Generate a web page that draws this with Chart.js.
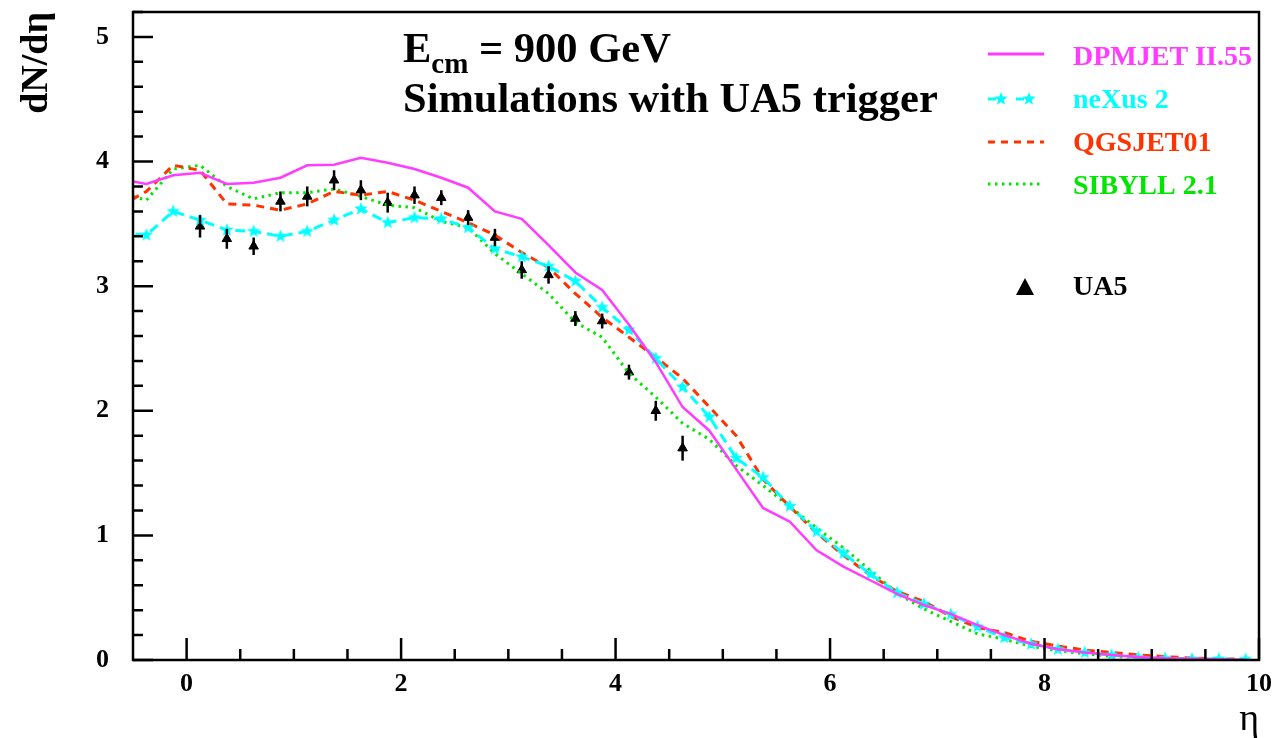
<!DOCTYPE html>
<html>
<head>
<meta charset="utf-8">
<script src="https://cdn.jsdelivr.net/npm/chart.js@4.4.1/dist/chart.umd.min.js"></script>
<style>
  html, body { margin: 0; padding: 0; background: #fff; }
</style>
</head>
<body>
<canvas id="chart-1" width="1273" height="738"></canvas>
<script>
/************************ data ***************************************************/
// bin centres of the simulated distributions (first one lies just left of the axis)
const etaSim = [-0.625, -0.375, -0.125, 0.125, 0.375, 0.625, 0.875, 1.125, 1.375, 1.625,
  1.875, 2.125, 2.375, 2.625, 2.875, 3.125, 3.375, 3.625, 3.875, 4.125,
  4.375, 4.625, 4.875, 5.125, 5.375, 5.625, 5.875, 6.125, 6.375, 6.625,
  6.875, 7.125, 7.375, 7.625, 7.875, 8.125, 8.375, 8.625, 8.875, 9.125,
  9.375, 9.625, 9.875];

const dpmjet = [3.86, 3.82, 3.89, 3.91, 3.82, 3.83, 3.87, 3.97, 3.975, 4.03,
  3.99, 3.94, 3.87, 3.79, 3.60, 3.54, 3.33, 3.11, 2.97, 2.69,
  2.39, 2.03, 1.84, 1.53, 1.22, 1.11, 0.88, 0.75, 0.64, 0.53,
  0.44, 0.37, 0.28, 0.20, 0.13, 0.086, 0.06, 0.04, 0.025, 0.015,
  0.01, 0.006, 0.003];

const nexus = [3.43, 3.41, 3.60, 3.53, 3.45, 3.44, 3.40, 3.44, 3.53, 3.62,
  3.51, 3.55, 3.54, 3.47, 3.30, 3.235, 3.16, 3.04, 2.83, 2.65,
  2.42, 2.19, 1.95, 1.62, 1.465, 1.235, 1.03, 0.856, 0.69, 0.54,
  0.45, 0.366, 0.267, 0.18, 0.128, 0.086, 0.06, 0.04, 0.02, 0.013,
  0.008, 0.008, 0.005];

const qgsjet = [3.64, 3.76, 3.97, 3.93, 3.66, 3.65, 3.61, 3.66, 3.76, 3.73,
  3.76, 3.69, 3.60, 3.51, 3.41, 3.27, 3.15, 2.94, 2.75, 2.59,
  2.43, 2.26, 2.03, 1.80, 1.45, 1.23, 1.02, 0.84, 0.68, 0.55,
  0.47, 0.35, 0.26, 0.22, 0.15, 0.112, 0.08, 0.06, 0.04, 0.027,
  0.016, 0.01, 0.005];

const sibyll = [3.75, 3.69, 3.94, 3.97, 3.80, 3.70, 3.75, 3.75, 3.78, 3.72,
  3.65, 3.63, 3.52, 3.47, 3.26, 3.10, 2.94, 2.71, 2.59, 2.30,
  2.11, 1.90, 1.77, 1.56, 1.40, 1.23, 1.06, 0.90, 0.72, 0.535,
  0.41, 0.31, 0.21, 0.166, 0.11, 0.075, 0.05, 0.03, 0.02, 0.012,
  0.007, 0.004, 0.002];

// UA5 measurement
const etaUA5 = [0.125, 0.375, 0.625, 0.875, 1.125, 1.375, 1.625, 1.875, 2.125, 2.375,
  2.625, 2.875, 3.125, 3.375, 3.625, 3.875, 4.125, 4.375, 4.625];
const ua5 = [3.48, 3.38, 3.32, 3.68, 3.72, 3.85, 3.77, 3.67, 3.73, 3.71,
  3.55, 3.39, 3.13, 3.09, 2.74, 2.72, 2.31, 2.00, 1.70];
const ua5Err = [0.09, 0.08, 0.07, 0.08, 0.08, 0.08, 0.08, 0.08, 0.07, 0.06,
  0.06, 0.07, 0.07, 0.07, 0.06, 0.06, 0.06, 0.08, 0.10];

const xTicks = [0, 2, 4, 6, 8, 10];
const yTicks = [0, 1, 2, 3, 4, 5];

/************************ styles *********************************/
const MAGENTA = "#ff3cff";
const CYAN = "#00ffff";
const RED = "#ff3300";
const GREEN = "#00e600";
const SERIF = '"Liberation Serif", "Times New Roman", serif';

function makeStar(color, r) {
  const c = document.createElement("canvas");
  c.width = c.height = 2 * r + 2;
  const g = c.getContext("2d");
  g.fillStyle = color;
  g.beginPath();
  for (let i = 0; i < 10; i++) {
    const rad = i % 2 ? r * 0.42 : r;
    const a = -Math.PI / 2 + i * Math.PI / 5;
    g.lineTo(r + 1 + rad * Math.cos(a), r + 1 + rad * Math.sin(a));
  }
  g.closePath();
  g.fill();
  return c;
}
const starImg = makeStar(CYAN, 7);

function pairs(xs, ys) {
  return xs.map((x, i) => ({ x: x, y: ys[i] }));
}

/************************ plugin: frame, ticks, error bars, texts *****************/
const decorations = {
  id: "decorations",
  afterDatasetsDraw(chart) {
    const ctx = chart.ctx;
    const xs = chart.scales.x, ys = chart.scales.y;
    // UA5 error bars
    ctx.save();
    ctx.strokeStyle = "#000";
    ctx.lineWidth = 2.5;
    etaUA5.forEach((e, i) => {
      const px = xs.getPixelForValue(e);
      ctx.beginPath();
      ctx.moveTo(px, ys.getPixelForValue(ua5[i] - ua5Err[i]));
      ctx.lineTo(px, ys.getPixelForValue(ua5[i] + ua5Err[i]));
      ctx.stroke();
    });
    ctx.restore();
  },
  afterDraw(chart) {
    const ctx = chart.ctx;
    const a = chart.chartArea;
    const xs = chart.scales.x, ys = chart.scales.y;
    ctx.save();
    ctx.strokeStyle = "#000";
    ctx.lineWidth = 2.5;
    ctx.strokeRect(a.left, a.top, a.right - a.left, a.bottom - a.top);

    // inward tick marks
    ctx.beginPath();
    for (let v = 0; v <= 10.001; v += 0.5) {
      const px = xs.getPixelForValue(v);
      const len = Math.abs(v % 2) < 1e-6 ? 22 : 11;
      ctx.moveTo(px, a.bottom);
      ctx.lineTo(px, a.bottom - len);
    }
    for (let k = 0; k <= 26; k++) {
      const v = k * 0.2;
      const py = ys.getPixelForValue(v);
      const len = k % 5 === 0 ? 20 : 10;
      ctx.moveTo(a.left, py);
      ctx.lineTo(a.left + len, py);
    }
    ctx.stroke();

    // header text
    ctx.fillStyle = "#000";
    ctx.textBaseline = "alphabetic";
    ctx.textAlign = "left";
    let x = 403;
    ctx.font = "bold 42.5px " + SERIF;
    ctx.fillText("E", x, 62);
    x += ctx.measureText("E").width;
    ctx.font = "bold 29px " + SERIF;
    ctx.fillText("cm", x, 73);
    x += ctx.measureText("cm").width;
    ctx.font = "bold 42.5px " + SERIF;
    ctx.fillText(" = 900 GeV", x, 62);
    ctx.fillText("Simulations with UA5 trigger", 403, 112);

    // legend
    const lx0 = 988, lx1 = 1044, tx = 1073;
    ctx.font = "bold 28px " + SERIF;
    ctx.lineWidth = 3;

    ctx.strokeStyle = MAGENTA;
    ctx.beginPath(); ctx.moveTo(lx0, 54); ctx.lineTo(lx1, 54); ctx.stroke();
    ctx.fillStyle = MAGENTA; ctx.fillText("DPMJET II.55", tx, 65);

    ctx.strokeStyle = CYAN;
    ctx.setLineDash([8, 20]);
    ctx.beginPath(); ctx.moveTo(lx0, 99); ctx.lineTo(lx1, 99); ctx.stroke();
    ctx.setLineDash([]);
    ctx.drawImage(starImg, 1001 - starImg.width / 2, 99 - starImg.height / 2);
    ctx.drawImage(starImg, 1029 - starImg.width / 2, 99 - starImg.height / 2);
    ctx.fillStyle = CYAN; ctx.fillText("neXus 2", tx, 108);

    ctx.strokeStyle = RED;
    ctx.setLineDash([7, 6]);
    ctx.beginPath(); ctx.moveTo(lx0, 142); ctx.lineTo(lx1, 142); ctx.stroke();
    ctx.fillStyle = RED; ctx.fillText("QGSJET01", tx, 151);

    ctx.strokeStyle = GREEN;
    ctx.setLineDash([2.5, 4.5]);
    ctx.beginPath(); ctx.moveTo(lx0, 184); ctx.lineTo(lx1, 184); ctx.stroke();
    ctx.setLineDash([]);
    ctx.fillStyle = GREEN; ctx.fillText("SIBYLL 2.1", tx, 194);

    ctx.fillStyle = "#000";
    ctx.beginPath();
    ctx.moveTo(1025, 278); ctx.lineTo(1034, 295); ctx.lineTo(1016, 295);
    ctx.closePath(); ctx.fill();
    ctx.fillText("UA5", tx, 295);
    ctx.restore();
  }
};

/************************* CHART INITIALIZATION ******************************/
const ctx1 = document.getElementById("chart-1").getContext("2d");
const myChart1 = new Chart(ctx1, {
  type: "line",
  data: {
    datasets: [
      {
        label: "DPMJET II.55",
        data: pairs(etaSim, dpmjet),
        borderColor: MAGENTA,
        borderWidth: 2.5,
        pointRadius: 0,
        tension: 0,
      },
      {
        label: "neXus 2",
        data: pairs(etaSim, nexus),
        borderColor: CYAN,
        borderWidth: 3,
        borderDash: [10, 6],
        pointStyle: starImg,
        pointRadius: 7,
        tension: 0,
      },
      {
        label: "QGSJET01",
        data: pairs(etaSim, qgsjet),
        borderColor: RED,
        borderWidth: 3,
        borderDash: [8, 6],
        pointRadius: 0,
        tension: 0,
      },
      {
        label: "SIBYLL 2.1",
        data: pairs(etaSim, sibyll),
        borderColor: GREEN,
        borderWidth: 3,
        borderDash: [2.5, 4.5],
        pointRadius: 0,
        tension: 0,
      },
      {
        label: "UA5",
        data: pairs(etaUA5, ua5),
        showLine: false,
        pointStyle: "triangle",
        pointRadius: 5.5,
        pointBorderWidth: 1,
        pointBackgroundColor: "#000",
        pointBorderColor: "#000",
      },
    ],
  },
  options: {
    responsive: false,
    animation: false,
    devicePixelRatio: 1,
    layout: { padding: { top: 12, right: 14, left: 0, bottom: 0 } },
    plugins: { legend: { display: false }, tooltip: { enabled: false } },
    scales: {
      x: {
        type: "linear",
        min: -0.5,
        max: 10,
        afterFit(scale) {
          scale.height = 78;
          scale.paddingLeft = 0;
          scale.paddingRight = 0;
        },
        afterBuildTicks(scale) { scale.ticks = xTicks.map(v => ({ value: v })); },
        grid: { display: false, drawTicks: false },
        border: { display: false },
        ticks: {
          autoSkip: false,
          maxRotation: 0,
          padding: 9,
          color: "#000",
          font: { family: SERIF, size: 26, weight: "bold" },
        },
        title: {
          display: true,
          text: "η",
          align: "end",
          color: "#000",
          font: { family: SERIF, size: 38 },
          padding: { top: 0, bottom: -5 },
        },
      },
      y: {
        type: "linear",
        min: 0,
        max: 5.2,
        afterFit(scale) {
          scale.width = 133;
          scale.paddingTop = 0;
          scale.paddingBottom = 0;
        },
        afterBuildTicks(scale) { scale.ticks = yTicks.map(v => ({ value: v })); },
        grid: { display: false, drawTicks: false },
        border: { display: false },
        ticks: {
          padding: 24,
          color: "#000",
          font: { family: SERIF, size: 26, weight: "bold" },
        },
        title: {
          display: true,
          text: "dN/dη",
          align: "end",
          color: "#000",
          font: { family: SERIF, size: 38, weight: "bold" },
          padding: { top: 14, bottom: 0 },
        },
      },
    },
  },
  plugins: [decorations],
});
</script>
</body>
</html>
